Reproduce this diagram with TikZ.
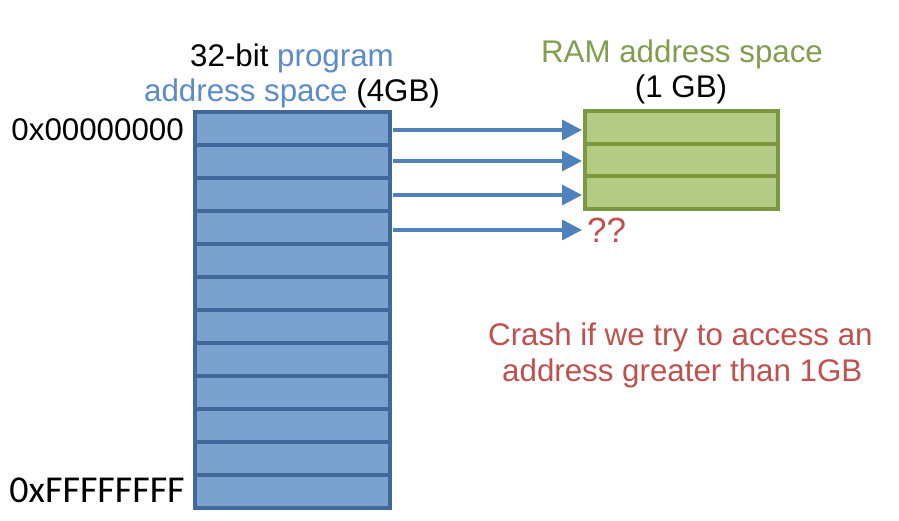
\documentclass[tikz,border=0pt]{standalone}
\usepackage{fontspec}
\setmainfont{Liberation Sans}
\newfontfamily\calib{Carlito}
\usetikzlibrary{arrows.meta}
\definecolor{cellblue}{HTML}{7BA1CF}
\definecolor{edgeblue}{HTML}{41689A}
\definecolor{arrblue}{HTML}{4F81BD}
\definecolor{txtblue}{HTML}{5B8BC9}
\definecolor{cellgreen}{HTML}{B4CB85}
\definecolor{edgegreen}{HTML}{7A9941}
\definecolor{txtgreen}{HTML}{7F9E4E}
\definecolor{txtred}{HTML}{C0504D}
\tikzset{
  bluecell/.style={fill=cellblue,draw=edgeblue,line width=4pt},
  greencell/.style={fill=cellgreen,draw=edgegreen,line width=4pt},
  maparrow/.style={draw=arrblue,line width=3.5pt,-{Triangle[length=20pt,width=20pt]}},
  lbl/.style={inner sep=0pt,font=\fontsize{31.3}{36}\selectfont},
}
\begin{document}
\begin{tikzpicture}[x=1pt,y=-1pt]
\useasboundingbox (0,0) rectangle (899,521);
% program address space
\foreach \i in {0,...,11}{
  \draw[bluecell] (195,{112+33*\i}) rectangle ++(195,33);
}
% RAM
\foreach \i in {0,1,2}{
  \draw[greencell] (585,{111+32.7*\i}) rectangle ++(193,32.7);
}
% titles
\node[lbl,anchor=base] (t1a) at (292,67) {32-bit \textcolor{txtblue}{program}};
\node[lbl,anchor=base] (t1b) at (292,102) {\textcolor{txtblue}{address space} (4GB)};
\node[lbl,anchor=base,text=txtgreen] (t2a) at (682,63) {RAM address space};
\node[lbl,anchor=base] (t2b) at (681,98) {(1 GB)};
% address labels
\node[lbl,anchor=base east] (lo) at (184,141) {0x00000000};
\node[inner sep=0pt,anchor=base east,font=\calib\fontsize{38}{42}\selectfont] (hi) at (185,502) {0xFFFFFFFF};
% arrows
\coordinate (s1) at (393,130); \coordinate (e1) at (582,130);
\coordinate (s2) at (393,161); \coordinate (e2) at (582,161);
\coordinate (s3) at (393,195); \coordinate (e3) at (582,195);
\coordinate (s4) at (393,230); \coordinate (e4) at (582,230);
\draw[maparrow] (s1) -- (e1);
\draw[maparrow] (s2) -- (e2);
\draw[maparrow] (s3) -- (e3);
\draw[maparrow] (s4) -- (e4);
\node[inner sep=0pt,font=\fontsize{35}{40}\selectfont,anchor=base west,text=txtred] (qq) at (587,243) {??};
% crash note
\node[lbl,anchor=base west,text=txtred] (c1) at (488,345) {Crash if we try to access an};
\node[lbl,anchor=base west,text=txtred] (c2) at (502,381) {address greater than 1GB};
\end{tikzpicture}
\end{document}
